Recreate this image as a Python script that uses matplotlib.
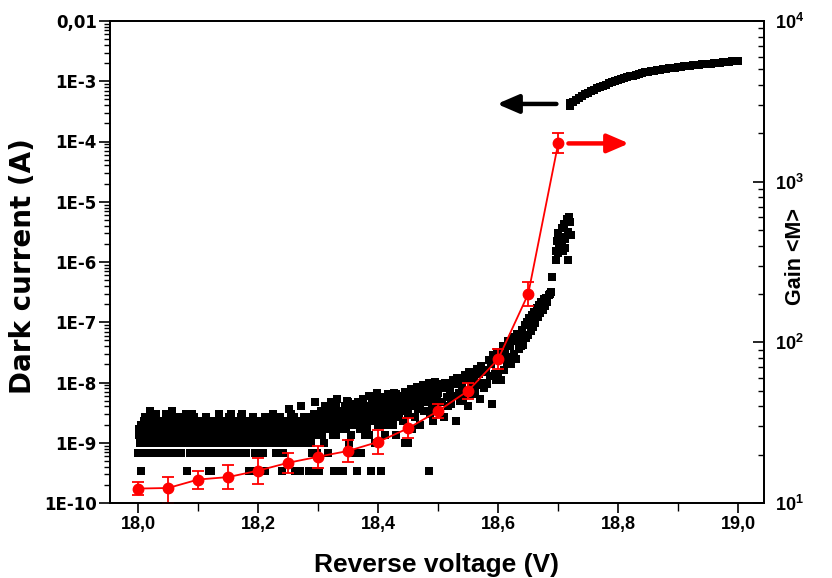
import numpy as np
import matplotlib
matplotlib.use("Agg")
import matplotlib.pyplot as plt
from matplotlib.ticker import FixedLocator, LogLocator, NullFormatter, MultipleLocator

plt.rcParams['font.family'] = ['Liberation Sans', 'DejaVu Sans']
plt.rcParams['font.weight'] = 'bold'
plt.rcParams['mathtext.fontset'] = 'custom'
plt.rcParams['mathtext.bf'] = 'Liberation Sans:bold'
plt.rcParams['mathtext.rm'] = 'Liberation Sans:bold'

# ---------------- data ----------------
# Dark current sweep A: ADC counts (1 count = 1/3 nA), from 18.000 V, step 2 mV
V_START_A = 18.000
V_STEP = 0.002
dark_counts_a = [
    2, 4, 1, 3, 5, 2, 8, 3, 4, 2,
    10, 3, 5, 2, 4, 6, 3, 2, 7, 4,
    2, 5, 3, 9, 4, 2, 6, 3, 10, 5,
    3, 2, 7, 4, 5, 3, 2, 8, 4, 6,
    3, 1, 5, 2, 4, 9, 3, 6, 2, 4,
    5, 3, 2, 7, 4, 3, 6, 2, 5, 1,
    4, 1, 3, 6, 2, 5, 4, 8, 3, 2,
    6, 3, 4, 2, 7, 5, 3, 9, 4, 2,
    3, 5, 2, 4, 6, 3, 8, 2, 5, 4,
    2, 4, 1, 6, 3, 1, 5, 2, 7, 1,
    4, 1, 6, 3, 2, 5, 1, 4, 7, 3,
    5, 3, 8, 4, 6, 2, 3, 7, 5, 4,
    1, 2, 6, 4, 3, 7, 5, 9, 4, 6,
    3, 1, 5, 7, 4, 1, 6, 3, 8, 5,
    4, 6, 1, 5, 3, 2, 7, 4, 1, 2,
    6, 1, 4, 9, 5, 3, 12, 7, 2, 8,
    5, 14, 7, 1, 10, 4, 16, 6, 1, 9,
    8, 1, 12, 5, 15, 7, 3, 10, 6, 13,
    2, 9, 1, 14, 6, 11, 2, 16, 8, 4,
    12, 5, 18, 7, 1, 10, 15, 3, 9, 20,
    6, 14, 1, 11, 17, 8, 4, 13, 19, 10,
    9, 16, 6, 20, 12, 4, 15, 8, 18, 11,
    13, 7, 3, 19, 10, 3, 16, 22, 5, 12,
    18, 8, 24, 11, 20, 6, 15, 26, 10, 17,
    14, 22, 1, 9, 27, 16, 7, 24, 12, 19,
    20, 10, 28, 14, 24, 8, 30, 17, 12, 26,
    22, 13, 33, 18, 28, 7, 36, 20, 15, 30,
    26, 16, 40, 22, 34, 12, 45, 25, 19, 38,
    32, 20, 50, 27, 42, 16, 56, 30, 24, 48,
    45, 28, 70, 38, 60, 13, 85, 42, 33, 95,
]
# Dark current sweep B (interleaved readings): ADC counts, from 18.001 V, step 2 mV
V_START_B = 18.001
dark_counts_b = [
    5, 3, 6, 4, 7, 3, 5, 4, 6, 8,
    4, 6, 3, 5, 9, 4, 7, 3, 6, 5,
    7, 4, 5, 3, 6, 8, 4, 5, 7, 3,
    6, 4, 8, 5, 3, 7, 4, 6, 5, 9,
    3, 6, 4, 7, 5, 3, 8, 4, 6, 5,
    4, 7, 3, 5, 6, 4, 8, 3, 5, 7,
    6, 3, 5, 4, 7, 6, 3, 9, 5, 4,
    7, 5, 3, 6, 4, 8, 5, 3, 6, 7,
    4, 6, 5, 3, 7, 4, 9, 6, 3, 5,
    6, 4, 7, 5, 3, 8, 4, 6, 5, 7,
    5, 3, 7, 4, 6, 8, 3, 5, 7, 4,
    6, 4, 9, 5, 3, 7, 6, 4, 8, 5,
    3, 6, 5, 7, 4, 11, 5, 3, 6, 8,
    4, 7, 5, 3, 6, 12, 4, 7, 5, 6,
    8, 4, 6, 3, 7, 5, 9, 14, 6, 4,
    7, 5, 10, 4, 8, 6, 12, 5, 9, 7,
    6, 11, 4, 8, 13, 7, 5, 10, 6, 9,
    8, 5, 11, 7, 14, 6, 9, 4, 12, 8,
    10, 6, 13, 8, 5, 11, 7, 15, 9, 6,
    12, 8, 4, 10, 14, 7, 11, 9, 16, 8,
    10, 7, 13, 9, 16, 11, 6, 14, 10, 18,
    12, 8, 15, 11, 19, 9, 13, 17, 10, 14,
    16, 11, 21, 13, 9, 18, 14, 23, 12, 16,
    19, 13, 25, 15, 11, 21, 17, 27, 14, 19,
    22, 15, 29, 18, 12, 24, 20, 31, 16, 23,
]
# steep part, nA, continuing sweep A from 18.600 V
dark_steep_nA = [
    14, 30, 11, 25, 40, 16, 33, 20, 48, 26,
    40, 20, 56, 30, 48, 25, 64, 36, 58, 40,
    75, 42, 90, 55, 100, 62, 118, 72, 132, 85,
    150, 98, 170, 120, 190, 140, 215, 160, 240, 185,
    255, 215, 285, 300, 320,
]
# breakdown cluster (V, nA)
cluster_v = [18.690, 18.696, 18.716, 18.696, 18.698, 18.700, 18.702, 18.704, 18.706,
             18.708, 18.710, 18.712, 18.714, 18.716, 18.718, 18.720, 18.722,
             18.700, 18.706, 18.712]
cluster_nA = [560, 1100, 1100, 1500, 2200, 3000, 1800, 2600, 3600,
              1500, 4200, 2400, 5200, 3200, 5600, 4600, 2800,
              1400, 2000, 1700]
# high-current branch (V, mA)
branch_v = [18.720, 18.725, 18.730, 18.735, 18.740, 18.745, 18.750, 18.755, 18.760, 18.765,
            18.770, 18.775, 18.780, 18.785, 18.790, 18.795, 18.800, 18.805, 18.810, 18.815,
            18.820, 18.825, 18.830, 18.835, 18.840, 18.845, 18.850, 18.855, 18.860, 18.865,
            18.870, 18.875, 18.880, 18.885, 18.890, 18.895, 18.900, 18.905, 18.910, 18.915,
            18.920, 18.925, 18.930, 18.935, 18.940, 18.945, 18.950, 18.955, 18.960, 18.965,
            18.970, 18.975, 18.980, 18.985, 18.990, 18.995, 19.000, 18.719]
branch_mA = [0.39, 0.45, 0.48, 0.52, 0.57, 0.61, 0.65, 0.69, 0.72, 0.76,
             0.80, 0.84, 0.88, 0.92, 0.96, 1.00, 1.04, 1.08, 1.12, 1.16,
             1.20, 1.24, 1.28, 1.32, 1.36, 1.40, 1.43, 1.46, 1.49, 1.52,
             1.55, 1.58, 1.61, 1.64, 1.66, 1.69, 1.72, 1.75, 1.77, 1.80,
             1.82, 1.84, 1.86, 1.88, 1.90, 1.92, 1.94, 1.97, 1.99, 2.02,
             2.04, 2.07, 2.09, 2.12, 2.14, 2.17, 2.20, 0.44]

# Gain <M>
gain_v = [18.00, 18.05, 18.10, 18.15, 18.20, 18.25, 18.30, 18.35, 18.40, 18.45,
          18.50, 18.55, 18.60, 18.65, 18.70]
gain = [12.3, 12.4, 14.0, 14.5, 15.9, 17.8, 19.4, 21.1, 24.0, 29.2,
        37.4, 50.0, 78.7, 200, 1730]
gain_low = [11.2, 10.0, 12.3, 12.2, 13.2, 15.4, 16.6, 18.0, 20.2, 25.3,
            33.6, 44.6, 68.2, 168, 1500]
gain_high = [13.5, 14.6, 15.9, 17.2, 19.1, 20.5, 22.7, 24.7, 28.5, 33.7,
             41.6, 56.1, 90.8, 238, 2000]

x_ticks = [18.0, 18.2, 18.4, 18.6, 18.8, 19.0]
x_ticklabels = ['18,0', '18,2', '18,4', '18,6', '18,8', '19,0']
y_ticks = [1e-10, 1e-9, 1e-8, 1e-7, 1e-6, 1e-5, 1e-4, 1e-3, 1e-2]
y_ticklabels = ['1E-10', '1E-9', '1E-8', '1E-7', '1E-6', '1E-5', '1E-4', '1E-3', '0,01']
y2_ticks = [1e1, 1e2, 1e3, 1e4]
y2_ticklabels = [r'$\mathbf{10^{1}}$', r'$\mathbf{10^{2}}$', r'$\mathbf{10^{3}}$', r'$\mathbf{10^{4}}$']

# ---------------- figure ----------------
W, H = 832, 578
fig = plt.figure(figsize=(W / 100, H / 100), dpi=100)
L, R, T, B = 110, 764, 21, 503
ax = fig.add_axes([L / W, 1 - B / H, (R - L) / W, (B - T) / H])

v_a = V_START_A + V_STEP * np.arange(len(dark_counts_a))
v_b = V_START_B + V_STEP * np.arange(len(dark_counts_b))
v_steep = v_a[-1] + V_STEP * (1 + np.arange(len(dark_steep_nA)))

mk = dict(linestyle='none', marker='s', color='black', markersize=6.2, markeredgewidth=0)
ax.plot(v_a, np.array(dark_counts_a) / 3.0 * 1e-9, **mk)
ax.plot(v_b, np.array(dark_counts_b) / 3.0 * 1e-9, **mk)
ax.plot(v_steep, np.array(dark_steep_nA) * 1e-9, **mk)
ax.plot(cluster_v, np.array(cluster_nA) * 1e-9, **mk)
ax.plot(branch_v, np.array(branch_mA) * 1e-3, **mk)

ax.set_yscale('log')
ax.set_xlim(17.953, 19.043)
ax.set_ylim(1e-10, 1e-2)
ax.yaxis.set_major_locator(FixedLocator(y_ticks))
ax.set_yticklabels(y_ticklabels)
ax.yaxis.set_minor_locator(LogLocator(base=10, subs=np.arange(2, 10), numticks=50))
ax.yaxis.set_minor_formatter(NullFormatter())
ax.set_xticks(x_ticks)
ax.set_xticklabels(x_ticklabels)
ax.xaxis.set_minor_locator(MultipleLocator(0.1))
ax.tick_params(axis='x', which='major', direction='out', length=7, width=1.2,
               labelsize=13, pad=2, top=False)
ax.tick_params(axis='x', which='minor', direction='out', length=6, width=1.0, top=False)
ax.tick_params(axis='y', which='major', direction='out', length=8, width=1.2,
               labelsize=12, pad=1.5, right=False, labelfontfamily='DejaVu Sans')
ax.tick_params(axis='y', which='minor', direction='out', length=4, width=1.0, right=False)
for s in ax.spines.values():
    s.set_linewidth(1.3)

ax.set_xlabel('Reverse voltage (V)', fontsize=19, fontweight='bold', va='top')
ax.xaxis.set_label_coords(0.5, (B - 553) / (B - T))
ax.set_ylabel('Dark current (A)', fontsize=20, fontweight='bold', family='DejaVu Sans')
ax.yaxis.set_label_coords((37 - L) / (R - L), (B - 266) / (B - T))

ax2 = ax.twinx()
ax2.set_yscale('log')
ax2.set_ylim(10, 1e4)
g = np.array(gain)
yerr = np.vstack([g - np.array(gain_low), np.array(gain_high) - g])
ax2.errorbar(gain_v, g, yerr=yerr, color='red', marker='o', markersize=7.5,
             linewidth=1.3, elinewidth=1.3, capsize=4, capthick=1.3)
ax2.yaxis.set_major_locator(FixedLocator(y2_ticks))
ax2.set_yticklabels(y2_ticklabels)
ax2.yaxis.set_minor_locator(LogLocator(base=10, subs=np.arange(2, 10), numticks=50))
ax2.yaxis.set_minor_formatter(NullFormatter())
ax2.tick_params(axis='y', which='major', direction='in', length=8, width=1.2, labelsize=13, pad=8)
ax2.tick_params(axis='y', which='minor', direction='in', length=4.5, width=1.0)
ax2.set_ylabel('Gain <M>', fontsize=15.5, fontweight='bold')
ax2.yaxis.set_label_coords((785 - L) / (R - L), (B - 257) / (B - T))
for s in ax2.spines.values():
    s.set_linewidth(1.3)

# direction arrows
ax.annotate('', xy=(18.598, 4.2e-4), xytext=(18.697, 4.2e-4),
            arrowprops=dict(arrowstyle='-|>,head_length=0.65,head_width=0.28', lw=3.2,
                            color='black', mutation_scale=20, shrinkA=0, shrinkB=0))
ax2.annotate('', xy=(18.818, 1730), xytext=(18.717, 1730),
             arrowprops=dict(arrowstyle='-|>,head_length=0.65,head_width=0.28', lw=3.2,
                             color='red', mutation_scale=20, shrinkA=0, shrinkB=0))

fig.savefig('out.png', dpi=100)
